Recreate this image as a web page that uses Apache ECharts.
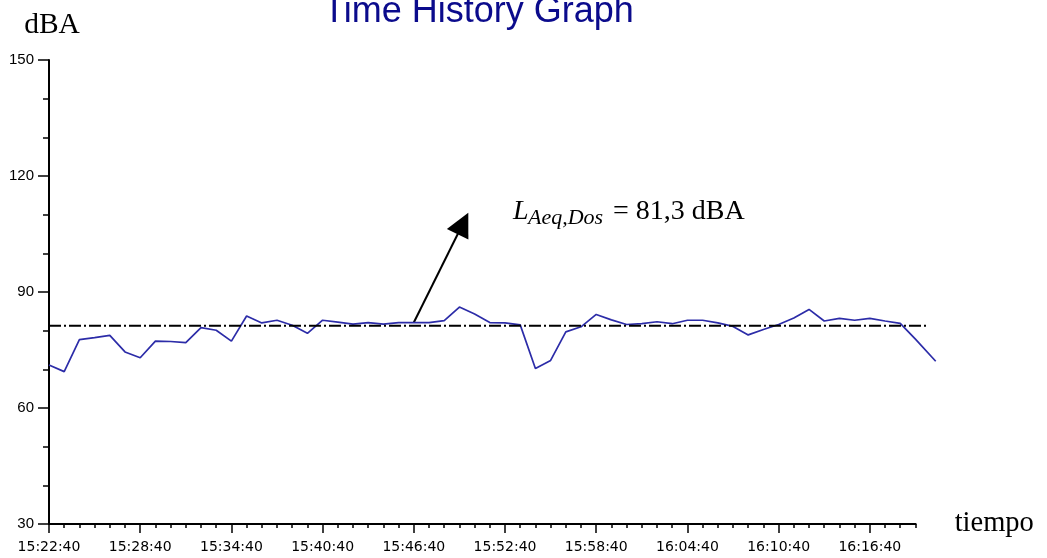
<!DOCTYPE html>
<html>
<head>
<meta charset="utf-8">
<script src="https://cdn.jsdelivr.net/npm/echarts@6/dist/echarts.min.js"></script>
<style>
  html, body { margin: 0; padding: 0; background: #ffffff; }
  #chart { width: 1047px; height: 558px; }
</style>
</head>
<body>
<div id="chart"></div>
<script>
// Sound level log: one A-weighted reading per minute (dBA)
const sampleTimes = [
  '15:22:40','15:23:40','15:24:40','15:25:40','15:26:40','15:27:40','15:28:40','15:29:40',
  '15:30:40','15:31:40','15:32:40','15:33:40','15:34:40','15:35:40','15:36:40','15:37:40',
  '15:38:40','15:39:40','15:40:40','15:41:40','15:42:40','15:43:40','15:44:40','15:45:40',
  '15:46:40','15:47:40','15:48:40','15:49:40','15:50:40','15:51:40','15:52:40','15:53:40',
  '15:54:40','15:55:40','15:56:40','15:57:40','15:58:40','15:59:40','16:00:40','16:01:40',
  '16:02:40','16:03:40','16:04:40','16:05:40','16:06:40','16:07:40','16:08:40','16:09:40',
  '16:10:40','16:11:40','16:12:40','16:13:40','16:14:40','16:15:40','16:16:40','16:17:40',
  '16:18:40','16:19:40','16:21:00'
];
const levels = [
  71.1, 69.4, 77.7, 78.2, 78.8, 74.5, 73.0, 77.3,
  77.2, 76.9, 80.8, 80.1, 77.3, 83.8, 82.0, 82.7,
  81.4, 79.3, 82.7, 82.2, 81.7, 82.1, 81.7, 82.1,
  82.1, 82.1, 82.6, 86.1, 84.3, 82.1, 82.0, 81.5,
  70.2, 72.3, 79.7, 81.0, 84.2, 82.8, 81.6, 81.8,
  82.3, 81.8, 82.7, 82.7, 82.0, 81.1, 78.9, 80.3,
  81.6, 83.3, 85.5, 82.5, 83.2, 82.7, 83.2, 82.5,
  81.9, 77.8, 72.1
];
const tickLabels = [
  '15:22:40','15:28:40','15:34:40','15:40:40','15:46:40',
  '15:52:40','15:58:40','16:04:40','16:10:40','16:16:40'
];
const startTime = '15:22:40';
const axisEndTime = '16:19:40';   // drawn end of the time axis
const recordEndTime = '16:21:00'; // last logged reading

// Equivalent level over the dose period
const laeqDose = 81.3;
const laeqSpan = ['15:22:40', '16:20:30'];
const arrowFrom = ['15:46:40', 82.1];
const arrowTo = ['15:50:15', 110.5];

function toSec(t) {
  const p = t.split(':').map(Number);
  return p[0] * 3600 + p[1] * 60 + p[2];
}
const t0 = toSec(startTime);
const elapsed = t => toSec(t) - t0;
const pad = n => String(n).padStart(2, '0');
function clock(v) {
  const s = t0 + Math.round(v);
  return pad(Math.floor(s / 3600)) + ':' + pad(Math.floor(s / 60) % 60) + ':' + pad(s % 60);
}

const axisBlack = { color: '#000000', width: 1.5 };
const tickValues = tickLabels.map(elapsed);
const axisEnd = elapsed(axisEndTime);
const xMax = elapsed(recordEndTime);
const minuteTicks = [];
for (let v = 0; v <= axisEnd; v += 60) minuteTicks.push(v);

const chart = echarts.init(document.getElementById('chart'), null, { renderer: 'canvas' });

chart.setOption({
  animation: false,
  backgroundColor: '#ffffff',
  grid: { left: 49, right: 111.3, top: 60, bottom: 34 },
  xAxis: [
    {
      // minute ticks
      type: 'value', position: 'bottom', min: 0, max: xMax,
      axisLine: { show: false },
      axisTick: { show: true, length: 4, customValues: minuteTicks, lineStyle: axisBlack },
      axisLabel: { show: false },
      splitLine: { show: false },
      name: 'tiempo', nameLocation: 'end', nameGap: 19,
      nameTextStyle: { fontFamily: 'Liberation Serif', fontSize: 28.5, color: '#000000' }
    },
    {
      // labelled six-minute ticks
      type: 'value', position: 'bottom', min: 0, max: xMax,
      axisLine: { show: false },
      axisTick: { show: true, length: 9, customValues: tickValues, lineStyle: axisBlack },
      axisLabel: {
        show: true, customValues: tickValues, formatter: clock, margin: 16,
        fontFamily: 'DejaVu Sans', fontSize: 14, color: '#000000'
      },
      splitLine: { show: false }
    }
  ],
  yAxis: {
    type: 'value', min: 30, max: 150, interval: 30,
    axisLine: { show: true, lineStyle: { color: '#000000', width: 2 } },
    axisTick: { show: true, length: 11, lineStyle: axisBlack },
    minorTick: { show: true, splitNumber: 3, length: 6, lineStyle: axisBlack },
    splitLine: { show: false },
    axisLabel: { margin: 15, fontFamily: 'Liberation Sans', fontSize: 15, color: '#000000' },
    name: 'dBA', nameLocation: 'end', nameGap: 20,
    nameTextStyle: { fontFamily: 'Liberation Serif', fontSize: 29.5, color: '#000000', padding: [0, 0, 0, 6] }
  },
  series: [
    {
      name: 'Nivel', type: 'line', xAxisIndex: 0, yAxisIndex: 0,
      data: sampleTimes.map((t, i) => [elapsed(t), levels[i]]),
      symbol: 'none',
      lineStyle: { color: '#2c2ca8', width: 1.7 }
    },
    {
      name: 'LAeq', type: 'line', xAxisIndex: 0, yAxisIndex: 0,
      data: laeqSpan.map(t => [elapsed(t), laeqDose]),
      symbol: 'none',
      lineStyle: { color: '#000000', width: 2, type: [12, 3, 2, 3] }
    }
  ],
  graphic: [
    {
      type: 'text', x: 478.5, y: 12,
      style: {
        text: 'Time History Graph', fill: '#0b0b8c',
        font: '36px "Liberation Sans", Arial, sans-serif',
        align: 'center', verticalAlign: 'middle'
      }
    },
    {
      type: 'text', x: 513, y: 212,
      style: { text: 'L', fill: '#000', font: 'italic 28px "Liberation Serif", serif', align: 'left', verticalAlign: 'middle' }
    },
    {
      type: 'text', x: 528, y: 218.2,
      style: { text: 'Aeq,Dos', fill: '#000', font: 'italic 22px "Liberation Serif", serif', align: 'left', verticalAlign: 'middle' }
    },
    {
      type: 'text', x: 613, y: 212,
      style: { text: '= ' + laeqDose.toFixed(1).replace('.', ',') + ' dBA', fill: '#000', font: '28px "Liberation Serif", serif', align: 'left', verticalAlign: 'middle' }
    }
  ]
});

const toPx = (x, y) => chart.convertToPixel({ xAxisIndex: 0, yAxisIndex: 0 }, [x, y]);

// Time axis line, ending before the last logged reading
const a0 = toPx(0, 30);
const a1 = toPx(axisEnd, 30);

// Arrow pointing from the curve to the LAeq label
const p0 = toPx(elapsed(arrowFrom[0]), arrowFrom[1]);
const p1 = toPx(elapsed(arrowTo[0]), arrowTo[1]);
const dx = p1[0] - p0[0], dy = p1[1] - p0[1];
const len = Math.sqrt(dx * dx + dy * dy);
const ux = dx / len, uy = dy / len;
const headLen = 24, headHalf = 12;
const bx = p1[0] - ux * headLen, by = p1[1] - uy * headLen;

chart.setOption({
  graphic: [
    {
      type: 'line', id: 'timeAxisLine',
      shape: { x1: a0[0] - 1, y1: a0[1], x2: a1[0] + 1, y2: a1[1] },
      style: { stroke: '#000000', lineWidth: 2 }
    },
    {
      type: 'line', id: 'arrowShaft',
      shape: { x1: p0[0], y1: p0[1], x2: bx + ux * 2, y2: by + uy * 2 },
      style: { stroke: '#000000', lineWidth: 2 }
    },
    {
      type: 'polygon', id: 'arrowHead',
      shape: { points: [[p1[0], p1[1]], [bx - uy * headHalf, by + ux * headHalf], [bx + uy * headHalf, by - ux * headHalf]] },
      style: { fill: '#000000' }
    }
  ]
});
</script>
</body>
</html>
